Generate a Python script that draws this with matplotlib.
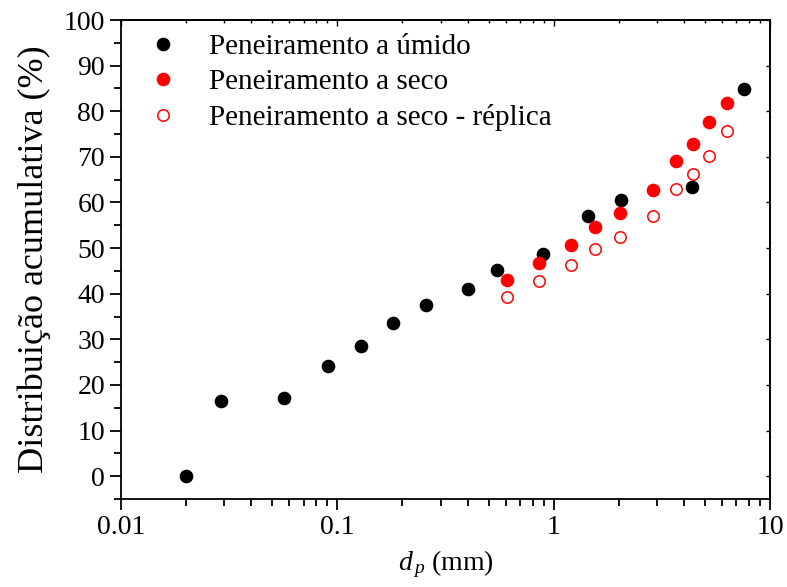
import matplotlib
matplotlib.use("Agg")
import matplotlib.pyplot as plt
from matplotlib.ticker import LogLocator, NullFormatter, MultipleLocator

plt.rcParams['font.family'] = ['Liberation Serif', 'DejaVu Serif']
plt.rcParams['mathtext.fontset'] = 'custom'
plt.rcParams['mathtext.rm'] = 'Liberation Serif'
plt.rcParams['mathtext.it'] = 'Liberation Serif:italic'

# Particle size (mm) and cumulative distribution (%)
d_umido = [0.020, 0.029, 0.057, 0.091, 0.128, 0.181, 0.256, 0.40, 0.55, 0.89, 1.44, 2.05, 4.36, 7.61]
y_umido = [0.0, 16.4, 17.2, 24.2, 28.6, 33.5, 37.5, 41.0, 45.2, 48.8, 57.0, 60.6, 63.3, 84.9]

d_seco = [0.609, 0.86, 1.20, 1.55, 2.03, 2.87, 3.67, 4.39, 5.22, 6.32]
y_seco = [42.9, 46.7, 50.6, 54.7, 57.8, 62.8, 69.2, 72.8, 77.7, 81.7]

d_replica = [0.609, 0.86, 1.20, 1.55, 2.03, 2.87, 3.67, 4.39, 5.22, 6.32]
y_replica = [39.3, 42.7, 46.2, 49.8, 52.5, 57.0, 63.0, 66.2, 70.2, 75.7]

labels = ["Peneiramento a úmido", "Peneiramento a seco", "Peneiramento a seco - réplica"]

fig = plt.figure(figsize=(7.87, 5.87), dpi=100)
ax = fig.add_axes([0.1537, 0.1499, 0.8247, 0.8160])

ms = 8.8
ax.plot(d_umido, y_umido, 'o', color='black', ms=ms, mec='black', label=labels[0])
ax.plot(d_seco, y_seco, 'o', color='red', ms=ms, mec='red', label=labels[1])
ax.plot(d_replica, y_replica, 'o', mfc='white', mec='red', mew=1.1, ms=ms - 0.6, label=labels[2])

ax.set_xscale('log')
ax.set_xlim(0.01, 10)
ax.set_ylim(-5, 100)
ax.set_xticks([0.01, 0.1, 1, 10])
ax.set_xticklabels(['0.01', '0.1', '1', '10'])
ax.xaxis.set_minor_locator(LogLocator(base=10, subs=range(2, 10)))
ax.xaxis.set_minor_formatter(NullFormatter())
ax.yaxis.set_major_locator(MultipleLocator(10))
ax.yaxis.set_minor_locator(MultipleLocator(5))

for s in ax.spines.values():
    s.set_linewidth(1.3)

ax.tick_params(axis='both', which='major', direction='out', length=8, width=1.3,
               labelsize=20, top=False, right=False)
ax.tick_params(axis='both', which='minor', direction='out', length=5, width=1.3,
               top=False, right=False)

# inward ticks on the top and right edges
axt = ax.secondary_xaxis('top')
axt.set_xticks([0.01, 0.1, 1, 10])
axt.xaxis.set_minor_locator(LogLocator(base=10, subs=range(2, 10)))
axt.xaxis.set_minor_formatter(NullFormatter())
axt.tick_params(which='major', direction='in', length=4, width=1.0, labeltop=False)
axt.tick_params(which='minor', direction='in', length=2.5, width=1.0)
axt.spines['top'].set_linewidth(1.3)

axr = ax.secondary_yaxis('right')
axr.yaxis.set_major_locator(MultipleLocator(10))
axr.yaxis.set_minor_locator(MultipleLocator(5))
axr.tick_params(which='major', direction='in', length=3, width=1.0, labelright=False)
axr.tick_params(which='minor', direction='in', length=0, width=0)
axr.spines['right'].set_linewidth(1.3)

ax.set_xlabel(r'$d_{\,p}$ (mm)', fontsize=20, labelpad=6)
ax.set_ylabel('Distribuição acumulativa (%)', fontsize=26, labelpad=9)

leg = ax.legend(loc='upper left', frameon=False, fontsize=21, handletextpad=0.95,
                labelspacing=0.3, borderaxespad=0.3, bbox_to_anchor=(0.007, 1.014),
                handlelength=1.2)

fig.savefig('out.png', dpi=100)
